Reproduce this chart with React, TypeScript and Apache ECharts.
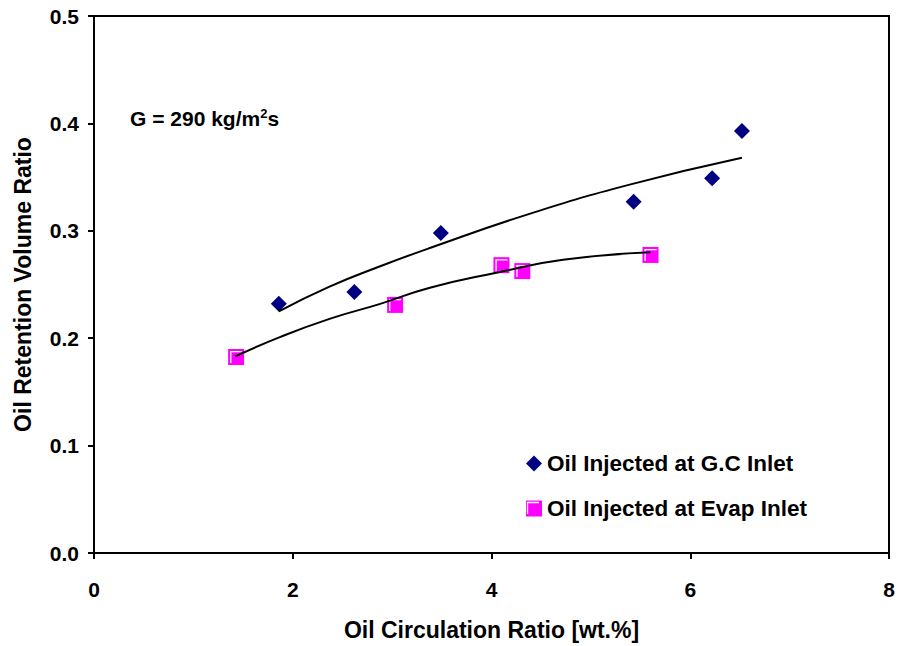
import React, { useEffect, useRef } from "react";
import * as echarts from "echarts";

// Measured data
const gcInletX = [1.86, 2.62, 3.49, 5.43, 6.22, 6.52];
const gcInletY = [0.232, 0.243, 0.298, 0.327, 0.349, 0.393];

const evapInletX = [1.43, 3.03, 4.10, 4.31, 5.60];
const evapInletY = [0.1825, 0.231, 0.268, 0.2625, 0.2775];

// Trend curves
const gcTrendX = [1.86, 2.37, 2.88, 3.38, 4.39, 5.39, 6.52];
const gcTrendY = [0.225, 0.248, 0.267, 0.284, 0.316, 0.343, 0.368];

const evapTrendX = [1.42, 1.87, 2.37, 2.88, 3.38, 4.05, 4.72, 5.60];
const evapTrendY = [0.183, 0.201, 0.218, 0.232, 0.247, 0.261, 0.273, 0.280];

const xTicks = { min: 0, max: 8, interval: 2 };
const yTicks = { min: 0, max: 0.5, interval: 0.1 };

const seriesNames = ["Oil Injected at G.C Inlet", "Oil Injected at Evap Inlet"];

const FONT = "'Liberation Sans', Arial, sans-serif";
const L_PATH = "path://M0,0H12V1.3H1.3V12H0Z";

const zip = (xs: number[], ys: number[]) => xs.map((x, i) => [x, ys[i]]);

export default function App() {
  const ref = useRef<HTMLDivElement>(null);
  useEffect(() => {
    if (!ref.current) return;
    const chart = echarts.init(ref.current, null, { renderer: "svg" });
    chart.setOption({
      animation: false,
      backgroundColor: "#fff",
      grid: {
        left: 94,
        top: 16,
        right: 12,
        bottom: 93,
        containLabel: false,
        outerBoundsMode: "none",
        show: true,
        borderColor: "#000",
        borderWidth: 2,
      },
      xAxis: {
        type: "value",
        ...xTicks,
        name: "Oil Circulation Ratio [wt.%]",
        nameLocation: "middle",
        nameGap: 65,
        nameTextStyle: { fontFamily: FONT, fontWeight: "bold", fontSize: 23, color: "#000" },
        axisLine: { lineStyle: { color: "#000", width: 2 } },
        axisTick: { show: true, inside: false, length: 6, lineStyle: { color: "#000", width: 2 } },
        axisLabel: { fontFamily: FONT, fontWeight: "bold", fontSize: 21, color: "#000", margin: 26 },
        splitLine: { show: false },
      },
      yAxis: {
        type: "value",
        ...yTicks,
        name: "Oil Retention Volume Ratio",
        nameLocation: "middle",
        nameGap: 60,
        nameTextStyle: { fontFamily: FONT, fontWeight: "bold", fontSize: 23, color: "#000" },
        axisLine: { show: true, lineStyle: { color: "#000", width: 2 } },
        axisTick: { show: true, inside: false, length: 6, lineStyle: { color: "#000", width: 2 } },
        axisLabel: {
          fontFamily: FONT,
          fontWeight: "bold",
          fontSize: 21,
          color: "#000",
          margin: 15,
          formatter: (v: number) => v.toFixed(1),
        },
        splitLine: { show: false },
      },
      legend: {
        orient: "vertical",
        left: 521,
        top: 447,
        itemWidth: 16,
        itemHeight: 16,
        itemGap: 22,
        data: seriesNames,
        textStyle: { fontFamily: FONT, fontWeight: "bold", fontSize: 22.5, color: "#000" },
      },
      graphic: [
        {
          type: "text",
          left: 130,
          top: 107,
          style: {
            text: "G = 290 kg/m{sup|2}s",
            fontFamily: FONT,
            fontWeight: "bold",
            fontSize: 21,
            fill: "#000",
            rich: {
              sup: { fontFamily: FONT, fontWeight: "bold", fontSize: 13, verticalAlign: "top", padding: [0, 0, 10, 0] },
            },
          },
        },
        {
          type: "polyline",
          z: 100,
          shape: { points: [[527.5, 514], [527.5, 502.5], [539, 502.5]] },
          style: { stroke: "#fff", lineWidth: 1.3, fill: null },
        },
      ],
      series: [
        {
          name: seriesNames[0],
          type: "scatter",
          symbol: "diamond",
          symbolSize: 16,
          itemStyle: { color: "#000080", opacity: 1 },
          data: zip(gcInletX, gcInletY),
          z: 2,
        },
        {
          name: seriesNames[1],
          type: "scatter",
          symbol: "rect",
          symbolSize: 16,
          itemStyle: { color: "#FF00FF", opacity: 1 },
          data: zip(evapInletX, evapInletY),
          z: 2,
        },
        {
          name: "evap-highlight",
          type: "scatter",
          symbol: L_PATH,
          symbolSize: 12,
          itemStyle: { color: "#fff", opacity: 1 },
          data: zip(evapInletX, evapInletY),
          silent: true,
          z: 3,
        },
        {
          name: "gc-trend",
          type: "line",
          smooth: true,
          showSymbol: false,
          lineStyle: { color: "#000", width: 2 },
          data: zip(gcTrendX, gcTrendY),
          z: 4,
        },
        {
          name: "evap-trend",
          type: "line",
          smooth: true,
          showSymbol: false,
          lineStyle: { color: "#000", width: 2 },
          data: zip(evapTrendX, evapTrendY),
          z: 4,
        },
      ],
    });
    return () => chart.dispose();
  }, []);
  return <div ref={ref} style={{ width: 901, height: 646, position: "absolute", left: 0, top: 0 }} />;
}
